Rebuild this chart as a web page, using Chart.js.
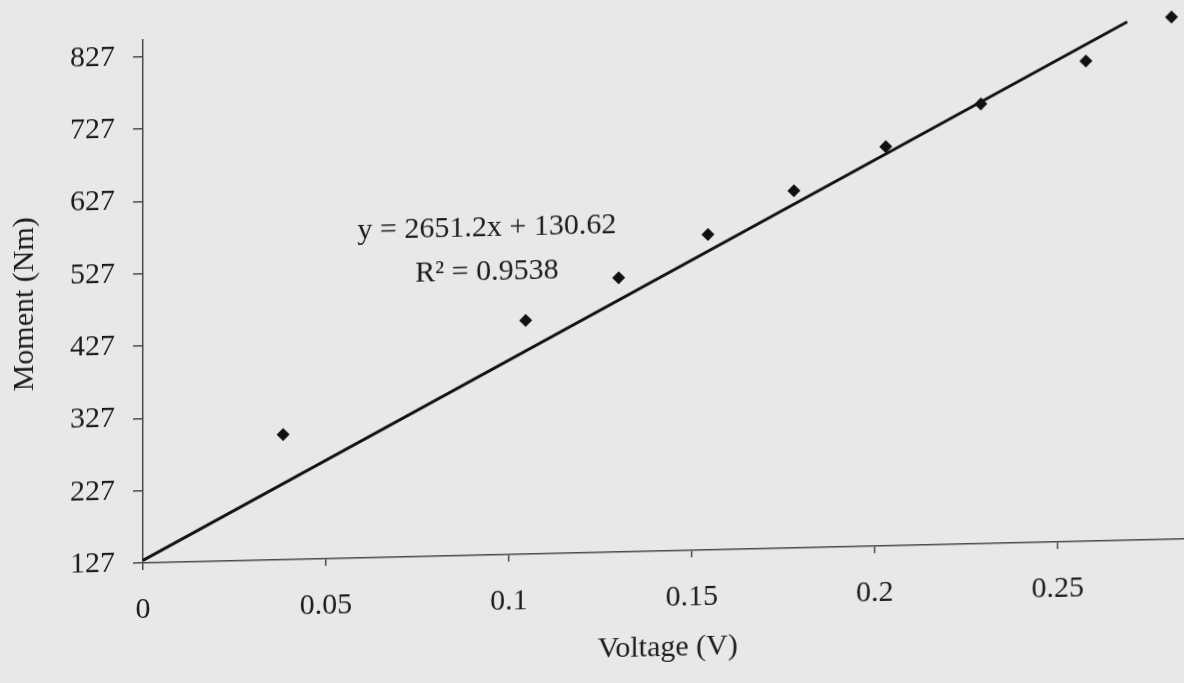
<!DOCTYPE html>
<html>
<head>
<meta charset="utf-8">
<script src="https://cdn.jsdelivr.net/npm/chart.js@4/dist/chart.umd.min.js"></script>
<style>
  html, body { margin: 0; padding: 0; background: #e8e8e8; overflow: hidden; }
  #wrap { position: absolute; left: 0; top: 0; width: 1300px; height: 683px; }
  /* the scanned page is a little skewed */
  #chart { transform: skewY(-1.32deg); transform-origin: 143px 563px; }
</style>
</head>
<body>
<div id="wrap"><canvas id="chart" width="1300" height="683"></canvas></div>
<script>
// data
const voltage = [0.0383, 0.1046, 0.130, 0.1544, 0.1779, 0.203, 0.229, 0.2577, 0.2811];
const moment = [300, 450, 506, 563, 621, 679, 735, 791, 849];

// excel linear trendline
const slope = 2651.2;
const intercept = 130.62;
const trendRange = [0, 0.269];
const equationText = 'y = 2651.2x + 130.62';
const r2Text = 'R² = 0.9538';

const xTicks = [0, 0.05, 0.1, 0.15, 0.2, 0.25, 0.3];
const xTickLabels = ['0', '0.05', '0.1', '0.15', '0.2', '0.25', '0.3'];
const yTicks = [127, 227, 327, 427, 527, 627, 727, 827];
const yTickLabels = ['127', '227', '327', '427', '527', '627', '727', '827'];

const xTitle = 'Voltage (V)';
const yTitle = 'Moment (Nm)';

const font = { family: '"Liberation Serif", "Times New Roman", serif', size: 30 };
const textColor = '#1c1c1c';
const axisColor = '#4a4a4a';

const points = voltage.map((v, i) => ({ x: v, y: moment[i] }));
const trend = trendRange.map(v => ({ x: v, y: slope * v + intercept }));

// equation box and x title drawn by hand so they sit where the scan has them
const annotations = {
  id: 'annotations',
  afterDraw(chart) {
    const { ctx, scales: { x, y }, chartArea } = chart;
    ctx.save();
    ctx.fillStyle = textColor;
    ctx.font = font.size + 'px ' + font.family;
    ctx.textAlign = 'center';
    ctx.textBaseline = 'middle';
    ctx.fillText(equationText, x.getPixelForValue(0.094), y.getPixelForValue(579));
    ctx.fillText(r2Text, x.getPixelForValue(0.094), y.getPixelForValue(518));
    ctx.fillText(xTitle, x.getPixelForValue(0.1434), chartArea.bottom + 97);
    ctx.restore();
  }
};

new Chart(document.getElementById('chart'), {
  type: 'scatter',
  data: {
    datasets: [
      {
        label: 'Moment',
        data: points,
        pointStyle: 'rectRot',
        pointRadius: 6.5,
        pointHoverRadius: 6.5,
        backgroundColor: '#111',
        borderColor: '#111',
        borderWidth: 0,
        showLine: false,
        clip: false
      },
      {
        label: 'Linear trend',
        data: trend,
        showLine: true,
        pointRadius: 0,
        borderColor: '#111',
        borderWidth: 3,
        clip: false
      }
    ]
  },
  options: {
    responsive: false,
    animation: false,
    devicePixelRatio: 1,
    layout: { padding: { left: 0, top: 40, right: 59, bottom: 0 } },
    plugins: {
      legend: { display: false },
      tooltip: { enabled: false }
    },
    scales: {
      x: {
        type: 'linear',
        min: 0,
        max: 0.3,
        afterBuildTicks: (scale) => { scale.ticks = xTicks.map(v => ({ value: v })); },
        afterFit: (scale) => { scale.height = 120; },
        ticks: {
          font: font,
          color: textColor,
          padding: 22,
          maxRotation: 0,
          autoSkip: false,
          callback: (value, index) => xTickLabels[index]
        },
        grid: { drawOnChartArea: false, drawTicks: true, tickLength: 7, color: axisColor, lineWidth: 1.5 },
        border: { display: true, color: axisColor, width: 1.5 }
      },
      y: {
        type: 'linear',
        min: 127,
        max: 850,
        afterBuildTicks: (scale) => { scale.ticks = yTicks.map(v => ({ value: v })); },
        afterFit: (scale) => { scale.width = 143; },
        ticks: {
          font: font,
          color: textColor,
          padding: 18,
          autoSkip: false,
          callback: (value, index) => yTickLabels[index]
        },
        title: {
          display: true,
          text: yTitle,
          font: font,
          color: textColor,
          padding: { top: 7, bottom: 0 }
        },
        grid: { drawOnChartArea: false, drawTicks: true, tickLength: 10, color: axisColor, lineWidth: 1.5 },
        border: { display: true, color: axisColor, width: 1.5 }
      }
    }
  },
  plugins: [annotations]
});
</script>
</body>
</html>
